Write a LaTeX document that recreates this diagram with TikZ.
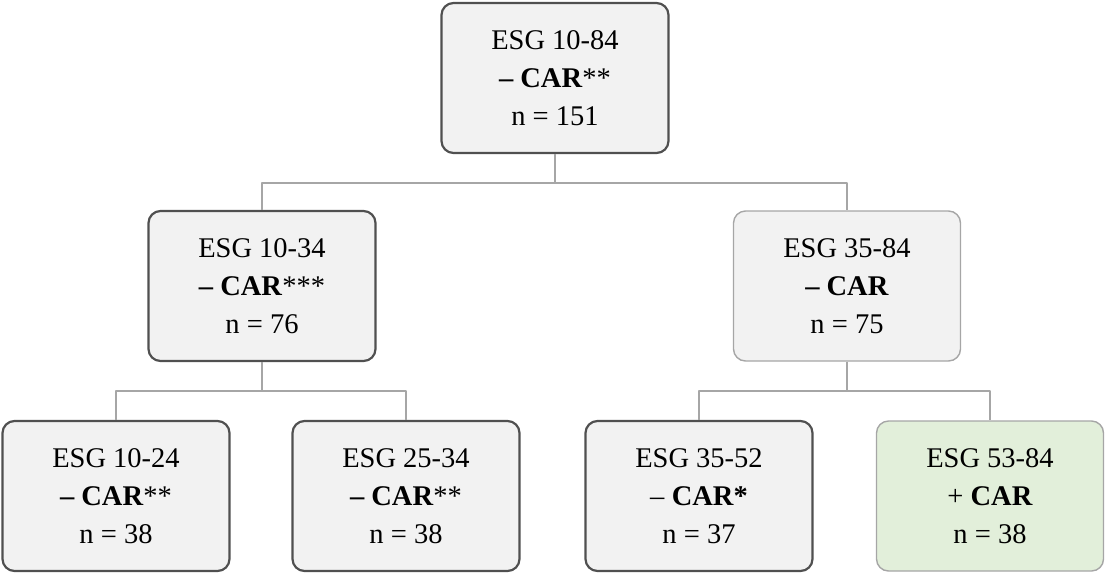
\documentclass[tikz,border=0pt]{standalone}
\usepackage{fontspec}
\setmainfont{Liberation Serif}
\definecolor{boxfill}{HTML}{F2F2F2}
\definecolor{greenfill}{HTML}{E2EFDA}
\definecolor{darkline}{HTML}{505050}
\definecolor{lightline}{HTML}{A6A6A6}
\begin{document}
\begin{tikzpicture}[x=1pt, y=-1pt, line join=round, line cap=round,
    esg/.style={draw=darkline, line width=2.2pt, fill=boxfill, rounded corners=12pt,
        minimum width=227pt, minimum height=150pt, align=center,
        font=\fontsize{28.5}{38}\selectfont},
    esglight/.style={esg, draw=lightline, line width=1.4pt},
    esggreen/.style={esglight, fill=greenfill},
    link/.style={draw=lightline, line width=1.6pt, line cap=butt}]
    \useasboundingbox (0,0) rectangle (1105,574);
    \node[esg] (root) at (555,78) {ESG 10-84\\\textbf{– CAR}**\\n = 151};
    \node[esg] (ml) at (262,286) {ESG 10-34\\\textbf{– CAR}***\\n = 76};
    \node[esglight] (mr) at (847,286) {ESG 35-84\\\textbf{– CAR}\\n = 75};
    \node[esg] (b1) at (116,496) {ESG 10-24\\\textbf{– CAR}**\\n = 38};
    \node[esg] (b2) at (406,496) {ESG 25-34\\\textbf{– CAR}**\\n = 38};
    \node[esg] (b3) at (699,496) {ESG 35-52\\– \textbf{CAR*}\\n = 37};
    \node[esggreen] (b4) at (990,496) {ESG 53-84\\+ \textbf{CAR}\\n = 38};
    % branches
    \foreach \p/\a/\b in {root/ml/mr, ml/b1/b2, mr/b3/b4}{
        \draw[link] (\p.south) -- ++(0,29) -| (\a.north);
        \draw[link] (\p.south) -- ++(0,29) -| (\b.north);
    }
\end{tikzpicture}
\end{document}
